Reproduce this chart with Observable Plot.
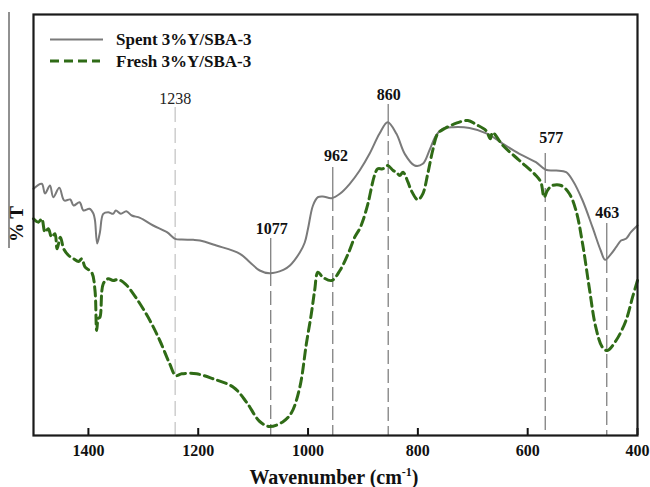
<!DOCTYPE html>
<html><head><meta charset="utf-8">
<script src="https://cdn.jsdelivr.net/npm/d3@7"></script>
<script src="https://cdn.jsdelivr.net/npm/@observablehq/plot@0.6"></script>
<style>
html,body{margin:0;padding:0;background:#fff;}
#chart{position:relative;width:650px;height:487px;}
</style></head><body><div id="chart"></div>
<script>
// Spent 3%Y/SBA-3 (gray solid) — wavenumber (cm-1) and transmittance (arbitrary units)
const spentWavenumber = [1500,1485,1479,1470,1464,1453,1444,1433,1427,1416,1409,1398,1391,1388,1384,1379,1373,1364,1355,1350,1341,1331,1321,1306,1282,1257,1242,1230,1209,1197,1167,1124,1106,1088,1070,1045,1033,1015,1006,1000,991,982,973,957,942,924,906,888,870,855,839,824,806,791,779,767,755,736,706,673,645,615,585,567,548,530,518,500,482,467,459,448,439,430,421,412,400];
const spentT = [246.7,251.7,242,250,238.3,247.7,235,236,230,233.3,225,226.7,222,215,192,203.3,221.7,223.3,221.7,225,221.7,224.3,220,217.7,210,203.3,196.7,196,195.7,195,190,181.7,173.3,165,162.3,165.7,170,183,193,207,230,238.3,239,237.3,241.7,251.7,265,281.7,301.7,313.3,301.7,281.7,270,271.7,285,300,306.7,308.3,307.5,301.7,291.7,281.7,273.3,265.7,265,263.3,255,235,208.3,185,175.7,181.7,188.3,195,196.7,203.3,210];

// Fresh 3%Y/SBA-3 (green dashed)
const freshWavenumber = [1500,1491,1485,1479,1473,1467,1461,1457,1451,1445,1436,1427,1418,1412,1406,1394,1388,1385,1382,1379,1373,1364,1355,1346,1333,1312,1288,1270,1252,1241,1230,1203,1173,1136,1112,1088,1070,1045,1030,1015,1003,994,988,982,973,957,942,927,915,906,900,891,879,873,864,855,845,839,833,827,818,812,800,791,782,773,764,752,730,709,694,676,668,664,645,615,585,576,570,564,555,539,524,512,500,488,476,464,455,439,421,409,400];
const freshT = [216.7,213.3,216.7,203.3,206.7,198.3,201.7,186.7,198.3,186.7,180,176.7,174,176.7,168.3,163,145,105,117,118.3,151.7,156.7,155,156,151.7,136.7,115,95,71.7,60,61.7,61.7,56.7,48.3,33.3,14,9,14,23,48.3,92,121.7,145,163.3,158.3,155,165,181.7,198.3,206.7,215,231.7,260,266.7,266.7,270,265,263.3,260,263.3,253.3,245,235.7,241.7,261.7,285,301.7,306.7,312.3,315,311,305,296.7,303,290,275,260,253.3,238.3,245,250,250,241.7,225,191.7,148.3,108.3,88.3,85,95,115,138.3,155];

const seriesNames = ["Spent 3%Y/SBA-3", "Fresh 3%Y/SBA-3"];
const xTicks = [1400, 1200, 1000, 800, 600, 400];

// Peak annotations
const peakLabels = ["1238", "1077", "962", "860", "577", "463"];
const peakWavenumber = [1242, 1068, 955, 854, 568, 456];
const peakLabelWavenumber = [1242, 1066, 949, 853, 557, 455];
const peakLabelT = [332, 202, 275, 336, 293, 218];
const peakTopT = [328, 197, 268, 331, 282, 212];
const peakMidT = [328, 163, 238, 313, 266, 176];

const spent = spentWavenumber.map((w, i) => ({w, t: spentT[i]}));
const fresh = freshWavenumber.map((w, i) => ({w, t: freshT[i]}));
const peaks = peakLabels.map((label, i) => ({
  label, w: peakWavenumber[i], lw: peakLabelWavenumber[i],
  labelT: peakLabelT[i], top: peakTopT[i], mid: peakMidT[i], light: i === 0
}));

const serif = "'Liberation Serif','Times New Roman',serif";
const gray = "#7a7a7a", green = "#2f6b16";

const plot = Plot.plot({
  width: 650, height: 487,
  marginLeft: 33, marginRight: 13, marginTop: 14, marginBottom: 52,
  x: {domain: [1500, 400]},
  y: {domain: [0, 421], axis: null},
  style: {fontFamily: serif, background: "white", overflow: "visible"},
  marks: [
    Plot.ruleX(peaks.filter(d => !d.light), {x: "w", y1: "top", y2: "mid", stroke: "#808080", strokeWidth: 1.3}),
    Plot.ruleX(peaks.filter(d => !d.light), {x: "w", y1: "mid", y2: 0, stroke: "#808080", strokeWidth: 1.3, strokeDasharray: "14,5"}),
    Plot.ruleX(peaks.filter(d => d.light), {x: "w", y1: "top", y2: 0, stroke: "#c6c6c6", strokeWidth: 1.3, strokeDasharray: "15,6"}),
    Plot.line(spent, {x: "w", y: "t", stroke: gray, strokeWidth: 2, curve: "catmull-rom"}),
    Plot.line(fresh, {x: "w", y: "t", stroke: green, strokeWidth: 3, strokeDasharray: "9,5", curve: "catmull-rom"}),
    Plot.text(peaks.filter(d => !d.light), {x: "lw", y: "labelT", text: "label", lineAnchor: "bottom", fontFamily: serif, fontSize: 16, fontWeight: "bold", fill: "#111"}),
    Plot.text(peaks.filter(d => d.light), {x: "lw", y: "labelT", text: "label", lineAnchor: "bottom", fontFamily: serif, fontSize: 16, fill: "#222"}),
    Plot.ruleX(xTicks, {x: d => d, y1: 0, y2: 0, insetTop: -7, stroke: "#111", strokeWidth: 2}),
    Plot.axisX(xTicks, {tickSize: 0, tickPadding: 9, tickFormat: d3.format("d"), fontFamily: serif, fontSize: 16, fontWeight: "bold", fill: "#111", label: null}),
    Plot.frame({stroke: "#1a1a1a", strokeWidth: 2.2})
  ]
});
document.getElementById("chart").appendChild(plot);

const svg = d3.select(plot);
// x-axis title
const xt = svg.append("text").attr("x", 334).attr("y", 484).attr("text-anchor", "middle")
  .attr("font-family", serif).attr("font-weight", "bold").attr("font-size", 20).attr("fill", "#111");
xt.append("tspan").text("Wavenumber (cm");
xt.append("tspan").attr("font-size", 12).attr("dy", -8).text("-1");
xt.append("tspan").attr("dy", 8).text(")");
// y-axis title
svg.append("text").attr("transform", "translate(23,224) rotate(-90)").attr("text-anchor", "middle")
  .attr("font-family", serif).attr("font-weight", "bold").attr("font-size", 19).attr("fill", "#111").text("% T");
svg.append("line").attr("x1", 9).attr("x2", 9).attr("y1", 12).attr("y2", 248).attr("stroke", "#222").attr("stroke-width", 1);
// legend
const legendStyles = [
  {stroke: gray, width: 2, dash: null, x2: 103},
  {stroke: green, width: 3, dash: "9,5", x2: 100}
];
seriesNames.forEach((name, i) => {
  const yl = 39.5 + i * 21.5;
  const s = legendStyles[i];
  svg.append("line").attr("x1", 50).attr("x2", s.x2).attr("y1", yl).attr("y2", yl)
    .attr("stroke", s.stroke).attr("stroke-width", s.width).attr("stroke-dasharray", s.dash);
  svg.append("text").attr("x", 116).attr("y", yl + 5.5).attr("text-anchor", "start").attr("font-family", serif)
    .attr("font-weight", "bold").attr("font-size", 17).attr("fill", "#111").text(name);
});
</script></body></html>
